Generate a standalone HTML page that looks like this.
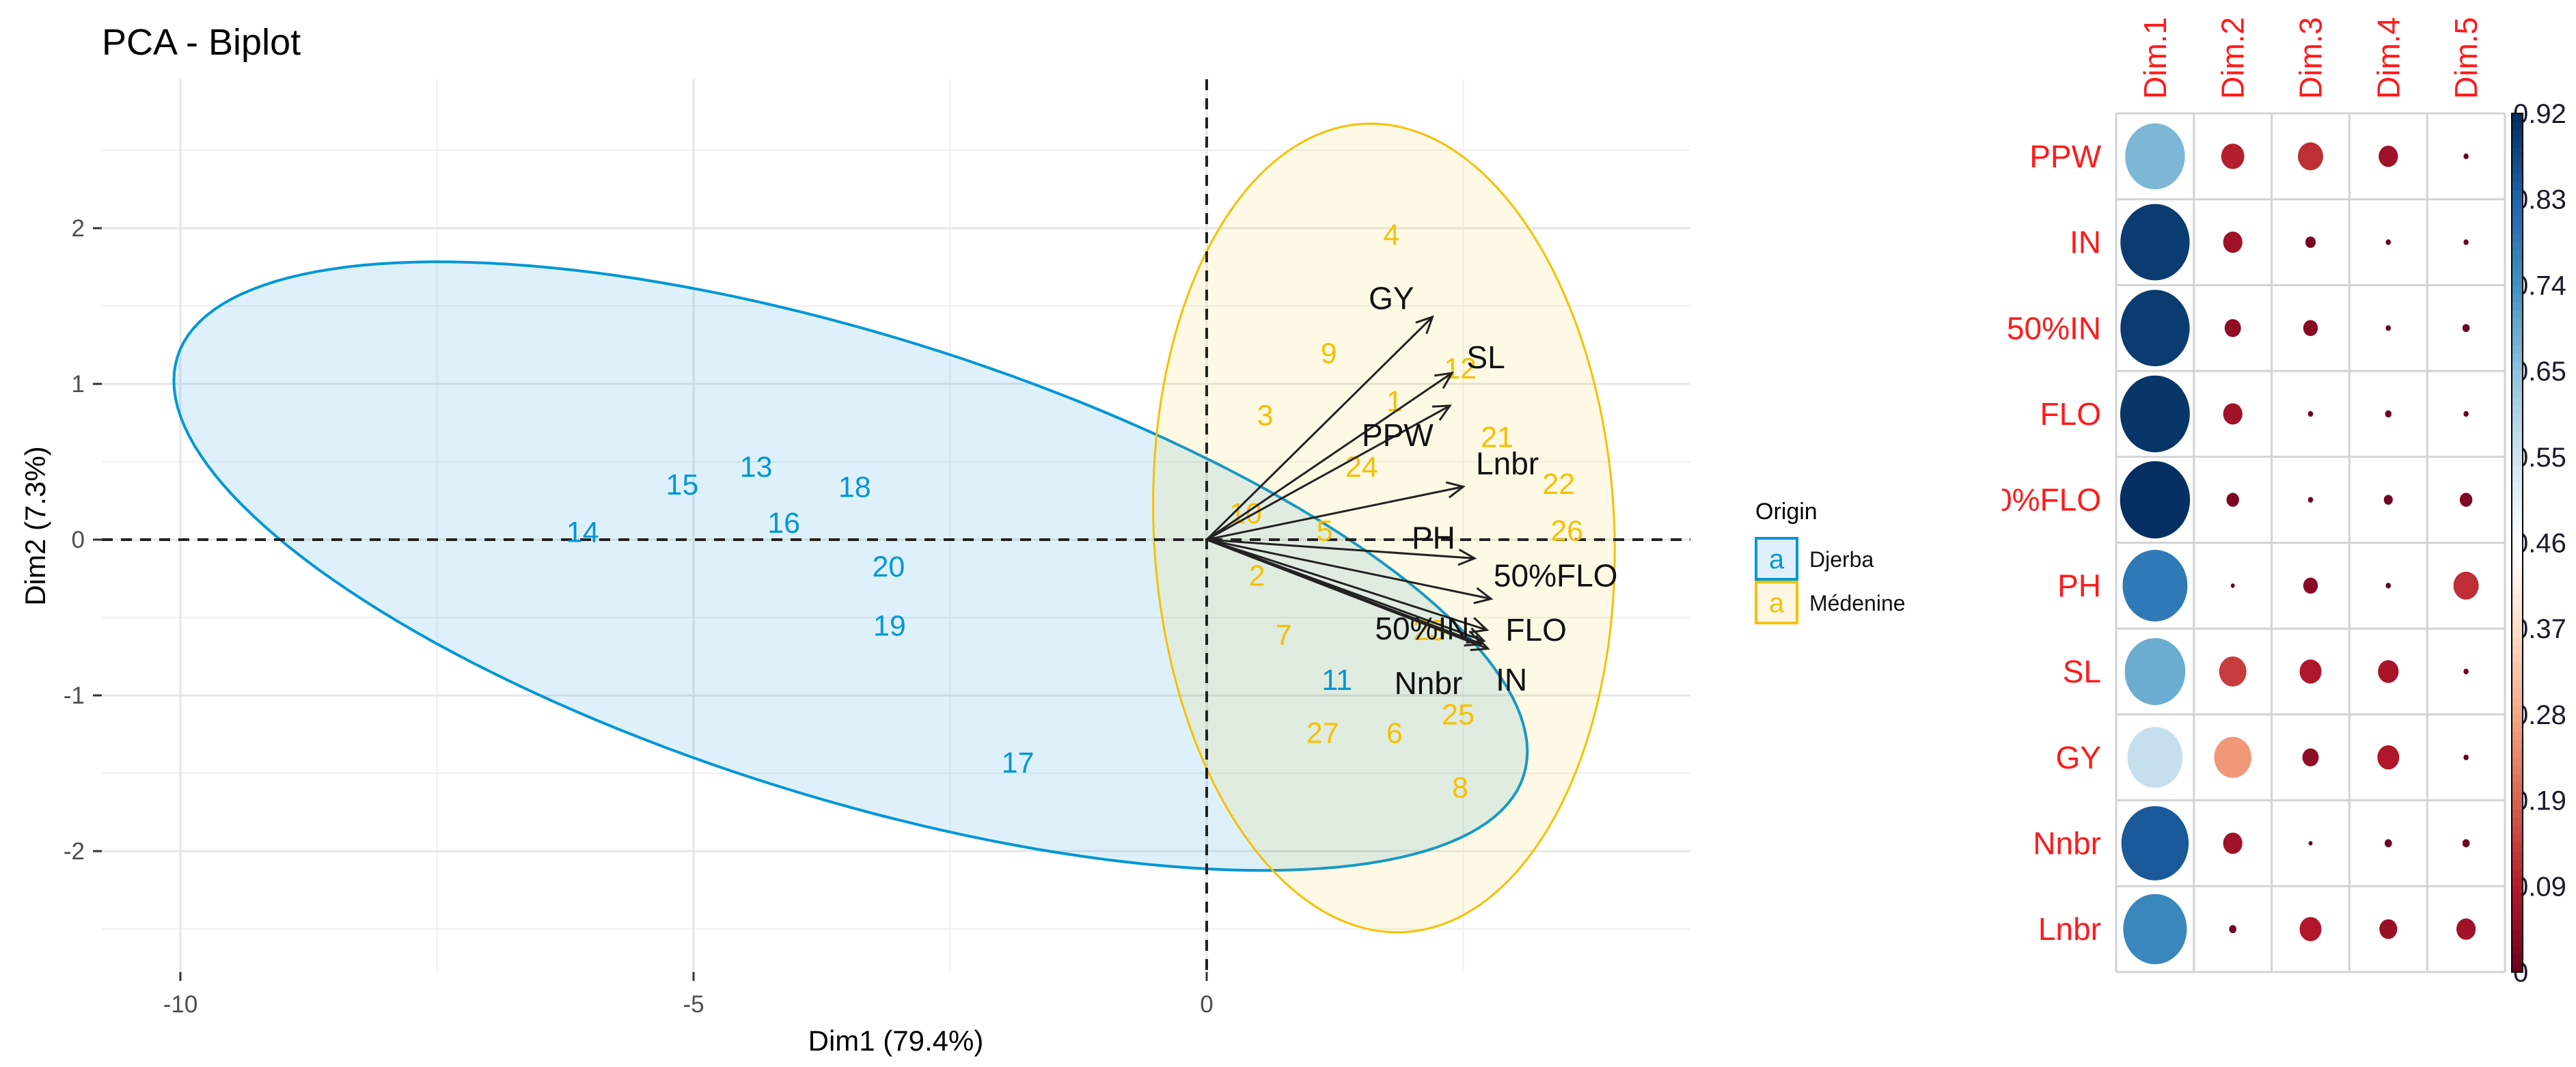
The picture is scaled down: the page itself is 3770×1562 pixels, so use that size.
<!DOCTYPE html>
<html><head><meta charset="utf-8"><style>
html,body{margin:0;padding:0;background:#fff}
svg{display:block}
text{font-family:"Liberation Sans",Arial,sans-serif}
</style></head><body>
<svg id="root" width="3770" height="1562" viewBox="0 0 3770 1562" xmlns="http://www.w3.org/2000/svg">
<defs><clipPath id="mclip"><rect x="2930" y="0" width="840" height="1562"/></clipPath></defs>
<g id="biplot"></g>
<g id="matrix" clip-path="url(#mclip)"></g>
</svg>
<script>
// ---- PCA biplot data ----
const indLabels = ["15","13","18","14","16","20","19","17","11","4","9","3","12","1","21","24","22","10","5","26","2","7","23","25","27","6","8"];
const indGroup  = ["D","D","D","D","D","D","D","D","D","M","M","M","M","M","M","M","M","M","M","M","M","M","M","M","M","M","M"];
const indX = [-5.11,-4.39,-3.43,-6.08,-4.12,-3.10,-3.09,-1.84,1.27,1.80,1.19,0.57,2.47,1.83,2.83,1.51,3.43,0.38,1.15,3.51,0.49,0.75,2.17,2.45,1.13,1.83,2.47];
const indY = [0.355,0.47,0.34,0.05,0.11,-0.17,-0.55,-1.43,-0.90,1.96,1.20,0.80,1.10,0.89,0.66,0.47,0.36,0.17,0.06,0.06,-0.23,-0.61,-0.58,-1.12,-1.24,-1.24,-1.59];
const varNames = ["GY","SL","PPW","Lnbr","PH","50%FLO","FLO","50%IN","IN","Nnbr"];
const varX = [2.20,2.39,2.37,2.50,2.61,2.77,2.73,2.70,2.74,2.68];
const varY = [1.43,1.07,0.86,0.34,-0.12,-0.38,-0.58,-0.65,-0.70,-0.67];
const varLabX = [1.80,2.72,1.86,2.93,2.21,3.40,3.21,2.10,2.97,2.16];
const varLabY = [1.55,1.17,0.67,0.49,0.01,-0.23,-0.58,-0.57,-0.90,-0.92];
const groups = ["Djerba","Médenine"];
const ellCx = [-3.47,1.727];
const ellCy = [-0.17,0.075];
const ellUx = [6.56,-0.10];
const ellUy = [-1.342,2.596];
const ellVx = [-0.671,2.247];
const ellVy = [-1.42,-0.035];
const xTicks = [-10,-5,0];
const yTicks = [2,1,0,-1,-2];
const xMinor = [-7.5,-2.5,2.5];
const yMinor = [2.5,1.5,0.5,-0.5,-1.5,-2.5];

// ---- cos2 matrix data ----
const rowNames = ["PPW","IN","50%IN","FLO","50%FLO","PH","SL","GY","Nnbr","Lnbr"];
const colNames = ["Dim.1","Dim.2","Dim.3","Dim.4","Dim.5"];
const dim1 = [0.67,0.90,0.90,0.91,0.92,0.79,0.69,0.57,0.85,0.76];
const dim2 = [0.10,0.07,0.05,0.07,0.03,0.003,0.14,0.26,0.07,0.01];
const dim3 = [0.12,0.02,0.04,0.005,0.005,0.04,0.09,0.05,0.003,0.09];
const dim4 = [0.07,0.005,0.005,0.008,0.015,0.005,0.08,0.09,0.01,0.06];
const dim5 = [0.005,0.005,0.01,0.005,0.03,0.12,0.005,0.005,0.01,0.07];
const legendTicks = ["0.92","0.83","0.74","0.65","0.55","0.46","0.37","0.28","0.19","0.09","0"];
const legendMax = 0.92;

const NS="http://www.w3.org/2000/svg";
function mk(tag, parent, attrs){const e=document.createElementNS(NS,tag);for(const k in attrs)e.setAttribute(k,attrs[k]);parent.appendChild(e);return e;}
const X = v => 1766 + 150.2*v;
const Y = v => 790 - 228*v;
const PL=149, PR=2474, PT=116, PB=1423;
const bp=document.getElementById('biplot');
const col={D:"#0096d6",M:"#f5c000"};

// title
let t=mk('text',bp,{x:149,y:80,'font-size':54,fill:'#000'});t.textContent="PCA - Biplot";


// grid
xMinor.forEach(v=>{const l=mk('line',bp,{x1:X(v),x2:X(v),y1:PT,y2:PB,stroke:'#efefef','stroke-width':2});

});
yMinor.forEach(v=>{const l=mk('line',bp,{x1:PL,x2:PR,y1:Y(v),y2:Y(v),stroke:'#efefef','stroke-width':2});

});
xTicks.forEach(v=>{const l=mk('line',bp,{x1:X(v),x2:X(v),y1:PT,y2:PB,stroke:'#e6e6e6','stroke-width':3});


const tk=mk('line',bp,{x1:X(v),x2:X(v),y1:PB,y2:PB+13,stroke:'#333','stroke-width':3});


const tx=mk('text',bp,{x:X(v),y:1482,'font-size':35,fill:'#4d4d4d','text-anchor':'middle'});tx.textContent=String(v);

});
yTicks.forEach(v=>{const l=mk('line',bp,{x1:PL,x2:PR,y1:Y(v),y2:Y(v),stroke:'#e6e6e6','stroke-width':3});


const tk=mk('line',bp,{x1:136,x2:149,y1:Y(v),y2:Y(v),stroke:'#333','stroke-width':3});


const tx=mk('text',bp,{x:124,y:Y(v)+12,'font-size':35,fill:'#4d4d4d','text-anchor':'end'});tx.textContent=String(v);

});
// axis titles
t=mk('text',bp,{x:1311,y:1538,'font-size':42,fill:'#000','text-anchor':'middle'});t.textContent="Dim1 (79.4%)";


t=mk('text',bp,{x:0,y:0,'font-size':42,fill:'#000','text-anchor':'middle',transform:'translate(66,770) rotate(-90)'});t.textContent="Dim2 (7.3%)";


// ellipses
const ellFill=["rgba(0,150,214,0.13)","rgba(245,192,0,0.10)"];
const ellStroke=[col.D,col.M];
groups.forEach((g,i)=>{let d="";for(let k=0;k<=180;k++){const a=k/180*2*Math.PI;
const px=ellCx[i]+ellUx[i]*Math.cos(a)+ellVx[i]*Math.sin(a);const py=ellCy[i]+ellUy[i]*Math.cos(a)+ellVy[i]*Math.sin(a);
d+=(k?"L":"M")+X(px).toFixed(1)+","+Y(py).toFixed(1);}
const p=mk('path',bp,{d:d+"Z",fill:ellFill[i],stroke:ellStroke[i],'stroke-width':i?3:4});

});
// reference dashed lines
let l=mk('line',bp,{x1:PL,x2:PR,y1:Y(0),y2:Y(0),stroke:'#222','stroke-width':4,'stroke-dasharray':'16,12'});


l=mk('line',bp,{x1:X(0),x2:X(0),y1:PT,y2:PB,stroke:'#222','stroke-width':4,'stroke-dasharray':'16,12'});


// individuals
indLabels.forEach((s,i)=>{const tx=mk('text',bp,{x:X(indX[i]),y:Y(indY[i])+15,'font-size':43,fill:col[indGroup[i]],'text-anchor':'middle'});tx.textContent=s;

});
// variable arrows
varNames.forEach((n,i)=>{const x0=X(0),y0=Y(0),x1=X(varX[i]),y1=Y(varY[i]);
const g=mk('g',bp,{});


mk('line',g,{x1:x0,y1:y0,x2:x1,y2:y1,stroke:'#222','stroke-width':3});
const ang=Math.atan2(y1-y0,x1-x0),L=26,w=0.45;
mk('path',g,{d:`M${x1-L*Math.cos(ang-w)},${y1-L*Math.sin(ang-w)}L${x1},${y1}L${x1-L*Math.cos(ang+w)},${y1-L*Math.sin(ang+w)}`,fill:'none',stroke:'#222','stroke-width':3});
const tx=mk('text',bp,{x:X(varLabX[i]),y:Y(varLabY[i])+16,'font-size':46,fill:'#111','text-anchor':'middle'});tx.textContent=n;

});
// legend
t=mk('text',bp,{x:2569,y:760,'font-size':34,fill:'#000'});t.textContent="Origin";


const legFill=["#e0f0fa","#fdf6e3"];
groups.forEach((g,i)=>{const y=788+i*64;
const r=mk('rect',bp,{x:2570,y:y,width:60,height:60,fill:legFill[i],stroke:ellStroke[i],'stroke-width':4});


const a=mk('text',bp,{x:2600,y:y+44,'font-size':40,fill:ellStroke[i],'text-anchor':'middle'});a.textContent="a";


const tx=mk('text',bp,{x:2648,y:y+42,'font-size':32,fill:'#111'});tx.textContent=g;

});

// ---- matrix ----
const mx=document.getElementById('matrix');
const GL=3097, GT=166, CW=113.8, RH=125.7;
const nR=rowNames.length, nC=colNames.length;
const pal=["#67001F","#B2182B","#D6604D","#F4A582","#FDDBC7","#FFFFFF","#D1E5F0","#92C5DE","#4393C3","#2166AC","#053061"];
function hex(h){return [1,3,5].map(i=>parseInt(h.substr(i,2),16));}
function colorAt(v){let tt=Math.max(0,Math.min(1,v/legendMax))*10;const i=Math.min(9,Math.floor(tt)),f=tt-i;const a=hex(pal[i]),b=hex(pal[i+1]);
return "rgb("+a.map((c,k)=>Math.round(c+(b[k]-c)*f)).join(",")+")";}
for(let r=0;r<=nR;r++){const ln=mk('line',mx,{x1:GL,x2:GL+nC*CW,y1:GT+r*RH,y2:GT+r*RH,stroke:'#d3d3d3','stroke-width':3});

}
for(let c=0;c<=nC;c++){const ln=mk('line',mx,{x1:GL+c*CW,x2:GL+c*CW,y1:GT,y2:GT+nR*RH,stroke:'#d3d3d3','stroke-width':3});

}
const dims=[dim1,dim2,dim3,dim4,dim5];
rowNames.forEach((n,r)=>{const tx=mk('text',mx,{x:3075,y:GT+r*RH+RH/2+16,'font-size':46,fill:'#ff1a1a','text-anchor':'end'});tx.textContent=n;


dims.forEach((arr,c)=>{const v=arr[r],s=Math.sqrt(v/legendMax);
const e=mk('ellipse',mx,{cx:GL+c*CW+CW/2,cy:GT+r*RH+RH/2,rx:Math.max(2.5,0.45*CW*s),ry:Math.max(2.5,0.45*RH*s),fill:colorAt(v)});

});});
colNames.forEach((n,c)=>{const tx=mk('text',mx,{x:0,y:0,'font-size':46,fill:'#ff1a1a',transform:`translate(${GL+c*CW+CW/2+16},145) rotate(-90)`});tx.textContent=n;

});
// color legend
const BL=3676,BW=16,BT=166,BH=1257;
legendTicks.forEach((s,i)=>{const tx=mk('text',mx,{x:3678,y:BT+i*BH/10+14,'font-size':40,fill:'#1a1a2e'});tx.textContent=s;

});
for(let k=0;k<100;k++){const v=legendMax*(1-k/100);const rc=mk('rect',mx,{x:BL,y:BT+k*BH/100,width:BW,height:BH/100+1,fill:colorAt(v)});

}
const bo=mk('rect',mx,{x:BL,y:BT,width:BW,height:BH,fill:'none',stroke:'#000','stroke-width':2});


</script>
</body></html>
